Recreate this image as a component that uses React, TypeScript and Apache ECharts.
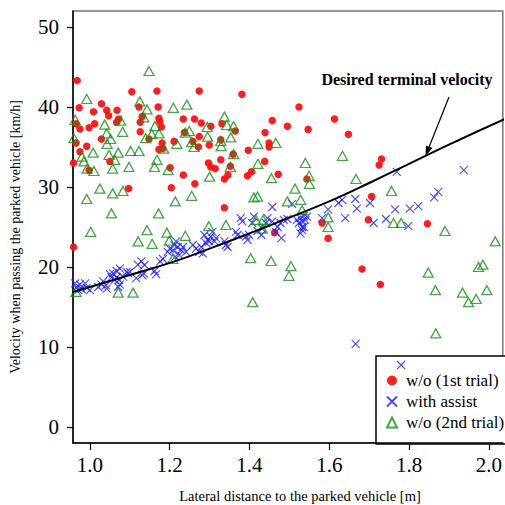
import React, { useEffect, useRef } from "react";
import * as echarts from "echarts";

const xTicks = [1.0, 1.2, 1.4, 1.6, 1.8, 2.0];
const yTicks = [0, 10, 20, 30, 40, 50];

const woFirst: number[][] = [
  [0.968, 43.3], [0.973, 39.9], [0.965, 37.9], [0.975, 37.25], [0.965, 35.5], [0.992, 35.1], [0.975, 34.4],
  [0.959, 33.0], [0.998, 32.1], [1.009, 39.4], [0.998, 37.4], [1.012, 37.9], [1.029, 40.4], [1.042, 39.6],
  [1.047, 38.9], [1.068, 39.6], [1.072, 38.5], [1.067, 38.1], [1.029, 36.0], [1.05, 33.2], [1.105, 41.9],
  [1.123, 40.0], [1.131, 38.8], [1.126, 38.1], [1.126, 36.9], [1.097, 29.8], [1.168, 42.0], [1.171, 40.0],
  [1.173, 38.6], [1.175, 38.2], [1.179, 37.5], [1.148, 36.0], [1.181, 35.5], [1.173, 34.7], [1.183, 34.8],
  [1.201, 32.4], [1.204, 29.9], [1.211, 35.7], [1.234, 38.5], [1.234, 31.5], [1.262, 38.5], [1.274, 42.0],
  [1.279, 38.0], [1.274, 36.3], [1.272, 35.0], [1.263, 30.4], [1.258, 35.7], [1.299, 35.25], [1.303, 37.6],
  [1.297, 33.0], [1.303, 32.5], [1.314, 32.3], [1.328, 33.4], [1.337, 31.0], [1.346, 31.5], [1.331, 37.9],
  [1.364, 37.0], [1.381, 41.6], [1.397, 34.6], [1.395, 31.4], [1.405, 31.9], [1.438, 33.2], [1.439, 36.8],
  [1.449, 35.5], [1.449, 35.0], [1.457, 38.3], [1.472, 31.6], [1.524, 40.0], [1.495, 37.6], [1.547, 37.2],
  [1.613, 38.5], [1.648, 36.6], [1.544, 31.0], [1.731, 33.5], [1.725, 32.75], [1.706, 28.8], [1.463, 24.3],
  [1.582, 25.5], [1.597, 23.6], [1.698, 25.9], [1.846, 25.4], [1.682, 19.75], [1.728, 17.8], [1.337, 27.4],
  [0.959, 22.5], [1.359, 34.1], [1.352, 32.6], [1.328, 35.9], [1.237, 36.8],
];

const withAssist: number[][] = [
  [0.963, 17.96], [0.967, 17.5], [0.975, 17.8], [0.979, 17.25], [0.988, 17.96], [0.992, 17.4], [0.971, 17.1],
  [1.0, 17.1], [1.021, 17.5], [1.029, 17.8], [1.033, 18.2], [1.04, 17.7], [1.042, 17.3], [1.05, 19.1],
  [1.058, 19.2], [1.067, 19.5], [1.075, 19.8], [1.054, 18.7], [1.067, 18.7], [1.073, 18.4], [1.075, 17.8],
  [1.062, 18.4], [1.071, 17.5], [1.083, 18.8], [1.092, 19.4], [1.096, 19.2], [1.1, 19.4], [1.116, 18.6],
  [1.12, 20.3], [1.129, 20.7], [1.137, 20.25], [1.135, 19.2], [1.131, 19.0], [1.162, 19.5], [1.166, 19.1],
  [1.176, 20.7], [1.183, 21.0], [1.195, 21.9], [1.2, 22.3], [1.208, 22.1], [1.212, 22.75], [1.216, 23.2],
  [1.22, 22.5], [1.214, 21.3], [1.224, 21.5], [1.229, 22.1], [1.233, 22.5], [1.241, 21.9], [1.258, 22.75],
  [1.266, 22.3], [1.274, 21.9], [1.279, 22.5], [1.283, 21.7], [1.287, 24.0], [1.291, 23.0], [1.295, 23.4],
  [1.299, 23.2], [1.303, 23.8], [1.307, 24.4], [1.312, 23.2], [1.316, 23.6], [1.337, 23.2], [1.341, 22.75],
  [1.345, 22.5], [1.366, 24.4], [1.37, 24.0], [1.378, 26.1], [1.382, 25.7], [1.391, 23.8], [1.395, 23.4],
  [1.399, 24.0], [1.407, 25.5], [1.411, 26.3], [1.42, 24.5], [1.43, 24.0], [1.432, 24.8], [1.441, 25.5],
  [1.445, 26.1], [1.457, 27.5], [1.457, 25.7], [1.466, 24.4], [1.47, 25.0], [1.478, 25.5], [1.48, 23.6],
  [1.486, 25.9], [1.495, 26.0], [1.507, 27.9], [1.519, 25.9], [1.524, 25.5], [1.528, 26.1], [1.532, 25.7],
  [1.536, 26.4], [1.54, 25.9], [1.544, 26.3], [1.532, 25.0], [1.528, 24.2], [1.536, 25.0], [1.532, 24.6],
  [1.582, 26.1], [1.597, 27.2], [1.623, 28.0], [1.632, 28.4], [1.665, 28.5], [1.669, 27.3], [1.64, 26.1],
  [1.702, 28.0], [1.711, 25.5], [1.742, 26.0], [1.765, 27.2], [1.802, 27.3], [1.823, 27.6], [1.798, 25.1],
  [1.863, 28.7], [1.873, 29.4], [1.769, 31.9], [1.937, 32.1], [1.666, 10.4], [1.78, 7.75],
];

const woSecond: number[][] = [
  [1.148, 44.5], [0.992, 41.0], [1.125, 40.7], [1.143, 39.7], [1.209, 39.9], [1.243, 40.3], [0.963, 38.4],
  [1.037, 37.8], [1.077, 38.3], [1.135, 38.7], [1.082, 36.9], [1.042, 36.7], [1.052, 36.0], [1.043, 35.4],
  [0.96, 36.1], [1.008, 34.3], [1.048, 34.0], [1.071, 34.3], [1.102, 34.5], [1.123, 34.5], [1.14, 36.1],
  [1.155, 36.6], [1.163, 37.6], [1.173, 36.7], [0.98, 33.8], [0.985, 33.2], [0.993, 32.3], [1.01, 32.0],
  [1.062, 33.4], [1.057, 32.3], [1.098, 32.5], [1.168, 33.4], [1.162, 32.5], [1.185, 34.8], [1.196, 32.1],
  [1.025, 29.8], [1.057, 29.2], [1.083, 29.5], [0.992, 28.5], [1.337, 38.8], [1.343, 37.75], [1.36, 37.6],
  [1.294, 37.5], [1.239, 36.8], [1.249, 37.0], [1.295, 36.3], [1.353, 36.2], [1.218, 35.4], [1.255, 35.6],
  [1.261, 35.0], [1.328, 35.75], [1.329, 35.1], [1.421, 35.4], [1.466, 35.5], [1.36, 34.1], [1.352, 32.5],
  [1.421, 32.9], [1.455, 31.1], [1.3, 31.3], [1.255, 28.9], [1.411, 28.7], [1.42, 28.8], [1.54, 33.0],
  [1.633, 33.9], [1.549, 31.4], [1.55, 30.4], [1.514, 29.8], [1.667, 31.0], [1.756, 29.5], [1.528, 28.4],
  [1.495, 28.2], [1.532, 27.1], [1.434, 25.9], [1.416, 25.9], [1.432, 24.8], [1.597, 26.2], [1.597, 25.0],
  [1.761, 25.5], [1.78, 25.5], [1.89, 24.5], [2.016, 23.2], [1.454, 20.75], [1.504, 20.1], [1.499, 18.9],
  [1.848, 19.3], [1.974, 20.0], [1.985, 20.3], [1.866, 17.1], [1.934, 16.8], [1.949, 15.6], [1.968, 16.0],
  [1.995, 17.1], [1.867, 11.7], [1.214, 28.2], [1.172, 26.7], [1.054, 26.7], [1.002, 24.4], [1.121, 23.2],
  [1.143, 24.6], [1.156, 22.9], [1.193, 24.3], [1.199, 23.3], [1.239, 23.9], [1.298, 25.1], [1.341, 25.25],
  [1.403, 21.1], [1.208, 21.0], [1.071, 16.8], [1.108, 16.8], [0.965, 16.9], [1.408, 15.6],
];

const desiredVelocity: number[][] = [
  [0.955, 16.85], [1.0, 17.5], [1.1, 19.0], [1.212, 20.7], [1.3, 22.3], [1.4, 24.2], [1.486, 25.9],
  [1.6, 28.2], [1.7, 30.5], [1.8, 32.9], [1.9, 35.3], [2.04, 38.5],
];

const FONT = "Liberation Serif, Times New Roman, Times, serif";

export default function App() {
  const ref = useRef<HTMLDivElement>(null);
  useEffect(() => {
    if (!ref.current) return;
    const chart = echarts.init(ref.current, null, { renderer: "svg" });
    const tip = [425.5, 156];
    const tail = [449, 97];
    const dx = tip[0] - tail[0];
    const dy = tip[1] - tail[1];
    const len = Math.sqrt(dx * dx + dy * dy);
    const ux = dx / len, uy = dy / len;
    const bx = tip[0] - 10 * ux, by = tip[1] - 10 * uy;
    const px = -uy * 3.5, py = ux * 3.5;

    chart.setOption({
      animation: false,
      textStyle: { fontFamily: FONT },
      grid: {
        left: 73, top: 11, right: 0, bottom: 62,
        show: true, borderColor: "#777", borderWidth: 1.5, backgroundColor: "transparent",
      },
      xAxis: {
        type: "value",
        min: 0.9576,
        max: 2.0349,
        axisLine: { show: true, onZero: false, lineStyle: { color: "#000", width: 1.5 } },
        axisTick: { show: true, customValues: xTicks, length: 7, lineStyle: { color: "#000", width: 1.2 } },
        axisLabel: {
          customValues: xTicks,
          formatter: (v: number) => v.toFixed(1),
          fontFamily: FONT, fontSize: 21, color: "#000", margin: 11,
        },
        splitLine: { show: false },
      },
      yAxis: {
        type: "value",
        min: -2,
        max: 52,
        axisLine: { show: true, onZero: false, lineStyle: { color: "#000", width: 1.5 } },
        axisTick: { show: true, customValues: yTicks, length: 6, lineStyle: { color: "#000", width: 1.2 } },
        axisLabel: {
          customValues: yTicks,
          fontFamily: FONT, fontSize: 21, color: "#000", margin: 14,
        },
        splitLine: { show: false },
      },
      legend: {
        data: ["w/o (1st trial)", "with assist", "w/o (2nd trial)"],
        orient: "vertical",
        left: 386,
        top: 370,
        padding: 0,
        itemGap: 0,
        itemWidth: 10,
        itemHeight: 10,
        textStyle: { fontFamily: FONT, fontSize: 17, color: "#000", lineHeight: 21, padding: [0, 0, 0, 4] },
      },
      graphic: [
        {
          type: "rect",
          shape: { x: 376, y: 356, width: 140, height: 88 },
          style: { fill: "#fff", stroke: "#000", lineWidth: 1.5 },
          z: 0,
        },
        {
          type: "text",
          x: 407, y: 79,
          style: {
            text: "Desired terminal velocity",
            fontFamily: FONT,
            fontSize: 16,
            fontWeight: "bold",
            fill: "#000",
            textAlign: "center",
            textVerticalAlign: "middle",
          },
        },
        {
          type: "line",
          shape: { x1: tail[0], y1: tail[1], x2: bx, y2: by },
          style: { stroke: "#000", lineWidth: 1.2 },
        },
        {
          type: "polygon",
          shape: { points: [[tip[0], tip[1]], [bx + px, by + py], [bx - px, by - py]] },
          style: { fill: "#000" },
        },
        {
          type: "text",
          x: 15, y: 237,
          rotation: Math.PI / 2,
          style: {
            text: "Velocity when passing the parked vehicle [km/h]",
            fontFamily: FONT,
            fontSize: 14,
            fill: "#000",
            textAlign: "center",
            textVerticalAlign: "middle",
          },
        },
        {
          type: "text",
          x: 300, y: 496,
          style: {
            text: "Lateral distance to the parked vehicle [m]",
            fontFamily: FONT,
            fontSize: 14.5,
            fill: "#000",
            textAlign: "center",
            textVerticalAlign: "middle",
          },
        },
      ],
      series: [
        {
          name: "w/o (1st trial)",
          type: "scatter",
          data: woFirst,
          symbol: "circle",
          symbolSize: 7.5,
          itemStyle: { color: "#ff1111", opacity: 0.95 },
          z: 3,
        },
        {
          name: "with assist",
          type: "scatter",
          data: withAssist,
          symbol: "path://M0,0L10,10M10,0L0,10",
          symbolSize: 8,
          itemStyle: { color: "#1a1aff", borderColor: "#1a1aff", borderWidth: 1.1 },
          z: 4,
        },
        {
          name: "w/o (2nd trial)",
          type: "scatter",
          data: woSecond,
          symbol: "triangle",
          symbolSize: [10, 9],
          itemStyle: { color: "rgba(0,0,0,0)", borderColor: "#139113", borderWidth: 1.3 },
          z: 5,
        },
        {
          name: "Desired terminal velocity",
          type: "line",
          data: desiredVelocity,
          smooth: true,
          showSymbol: false,
          symbol: "none",
          lineStyle: { color: "#000", width: 2 },
          clip: true,
          z: 6,
        },
      ],
    });
    return () => chart.dispose();
  }, []);
  return (
    <div
      ref={ref}
      style={{ position: "absolute", left: 0, top: 0, width: 505, height: 505 }}
    />
  );
}
